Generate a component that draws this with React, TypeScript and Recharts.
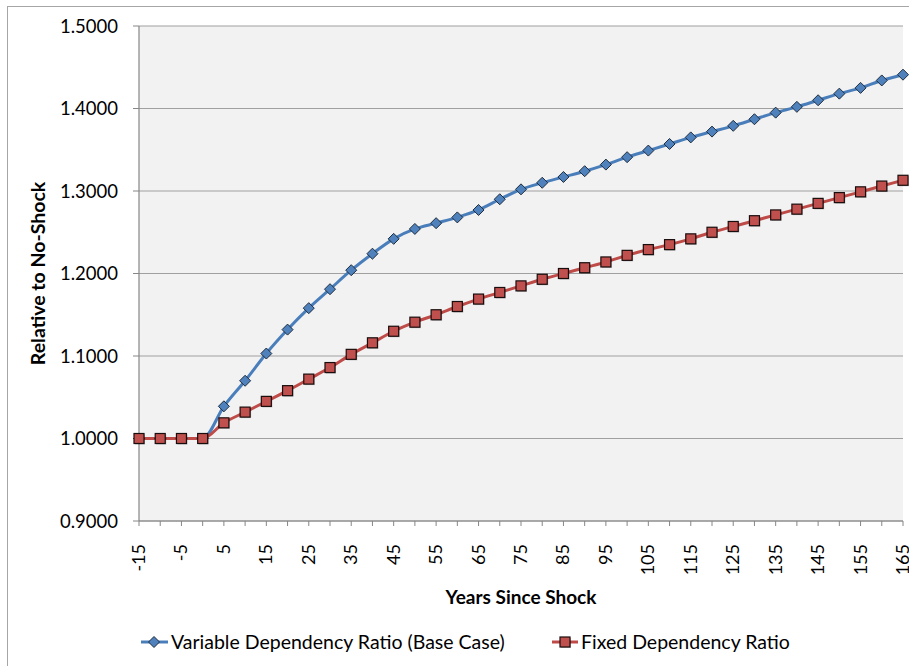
import React from 'react';
import { LineChart, Line, XAxis, YAxis, CartesianGrid, Legend, Label } from 'recharts';

const years = [-15, -10, -5, 0, 5, 10, 15, 20, 25, 30, 35, 40, 45, 50, 55, 60, 65, 70, 75, 80, 85, 90, 95, 100, 105, 110, 115, 120, 125, 130, 135, 140, 145, 150, 155, 160, 165];
const variableRatio = [1.0, 1.0, 1.0, 1.0, 1.039, 1.070, 1.103, 1.132, 1.158, 1.181, 1.204, 1.224, 1.242, 1.254, 1.261, 1.268, 1.277, 1.290, 1.302, 1.310, 1.317, 1.324, 1.332, 1.341, 1.349, 1.357, 1.365, 1.372, 1.379, 1.387, 1.395, 1.402, 1.410, 1.418, 1.425, 1.434, 1.441];
const fixedRatio = [1.0, 1.0, 1.0, 1.0, 1.019, 1.032, 1.045, 1.058, 1.072, 1.086, 1.102, 1.116, 1.130, 1.141, 1.150, 1.160, 1.169, 1.177, 1.185, 1.193, 1.200, 1.207, 1.214, 1.222, 1.229, 1.235, 1.242, 1.250, 1.257, 1.264, 1.271, 1.278, 1.285, 1.292, 1.299, 1.306, 1.313];
const yTicks = [0.9, 1.0, 1.1, 1.2, 1.3, 1.4, 1.5];
const seriesNames = ['Variable Dependency Ratio (Base Case)', 'Fixed Dependency Ratio'];

const data = years.map((y, i) => ({ year: y, variable: variableRatio[i], fixed: fixedRatio[i] }));

const FONT = 'Lato, "Noto Sans", sans-serif';
const BLUE_LINE = '#4a7ebb';
const BLUE_FILL = '#4f81bd';
const RED_LINE = '#be4b48';
const RED_FILL = '#c0504d';

const Diamond = (props: any) => {
  const { cx, cy } = props;
  if (cx == null || cy == null) return null;
  const r = 5.5;
  return (
    <path
      d={`M${cx},${cy - r}L${cx + r},${cy}L${cx},${cy + r}L${cx - r},${cy}Z`}
      fill={BLUE_FILL}
      stroke="#1f2d3d"
      strokeWidth={1}
    />
  );
};

const Square = (props: any) => {
  const { cx, cy } = props;
  if (cx == null || cy == null) return null;
  const s = 10;
  return (
    <g>
      <rect x={cx - s / 2 + 1} y={cy - s / 2 + 1} width={s} height={s} fill="rgba(0,0,0,0.25)" />
      <rect x={cx - s / 2} y={cy - s / 2} width={s} height={s} fill={RED_FILL} stroke="#1a0d0d" strokeWidth={1.2} />
    </g>
  );
};

const XTick = (props: any) => {
  const { x, y, payload } = props;
  return (
    <text
      x={0}
      y={0}
      transform={`translate(${x + 6},${y + 16}) rotate(-90)`}
      textAnchor="end"
      fontFamily={FONT}
      fontSize={18}
      fill="#000"
    >
      {payload.value}
    </text>
  );
};

const LegendContent = () => (
  <div style={{ position: 'relative', width: 909, height: 24 }}>
    <svg width={909} height={24} style={{ position: 'absolute', left: 0, top: 0 }}>
      <line x1={141} y1={12} x2={168} y2={12} stroke={BLUE_LINE} strokeWidth={3} />
      <Diamond cx={154} cy={12} />
      <line x1={552} y1={12} x2={578} y2={12} stroke={RED_LINE} strokeWidth={3} />
      <Square cx={565} cy={12} />
      <text x={171} y={18.5} fontFamily={FONT} fontSize={19.5} fill="#000">{seriesNames[0]}</text>
      <text x={581} y={18.5} fontFamily={FONT} fontSize={19.5} fill="#000">{seriesNames[1]}</text>
    </svg>
  </div>
);

export default function App() {
  return (
    <div style={{ position: 'absolute', left: 0, top: 0, width: 909, height: 666, overflow: 'hidden', background: '#fff' }}>
      <div
        style={{
          position: 'absolute',
          left: 7,
          top: 6,
          width: 1000,
          height: 1000,
          border: '1px solid #a6a6a6',
          pointerEvents: 'none',
        }}
      />
      <LineChart
        width={909}
        height={666}
        data={data}
        margin={{ top: 26, right: 6, bottom: 0, left: 0 }}
        style={{ position: 'absolute', left: 0, top: 0 }}
      >
        <CartesianGrid vertical={false} stroke="#a0a0a0" strokeWidth={1.2} fill="#f2f2f2" />
        <XAxis
          dataKey="year"
          height={145}
          interval={0}
          tick={(p: any) => (p.index % 2 === 0 ? <XTick {...p} /> : <g />)}
          tickLine={{ stroke: '#868686' }}
          axisLine={{ stroke: '#868686', strokeWidth: 1.2 }}
          tickSize={5}
        >
          <Label
            content={(p: any) => {
              const vb = p.viewBox;
              return (
                <text
                  x={vb.x + vb.width / 2}
                  y={vb.y + 83}
                  textAnchor="middle"
                  fontFamily={FONT}
                  fontWeight="bold"
                  fontSize={19}
                  fill="#000"
                >
                  Years Since Shock
                </text>
              );
            }}
          />
        </XAxis>
        <YAxis
          width={139}
          domain={[0.9, 1.5]}
          ticks={yTicks}
          type="number"
          allowDataOverflow
          tickFormatter={(v: number) => v.toFixed(4)}
          tick={{ fontFamily: FONT, fontSize: 18.5, fill: '#000' }}
          tickLine={{ stroke: '#868686' }}
          axisLine={{ stroke: '#868686', strokeWidth: 1.2 }}
          tickSize={6}
          tickMargin={15}
        >
          <Label
            content={(p: any) => {
              const vb = p.viewBox;
              const cy = vb.y + vb.height / 2;
              return (
                <text
                  x={0}
                  y={0}
                  transform={`translate(45,${cy}) rotate(-90)`}
                  textAnchor="middle"
                  fontFamily={FONT}
                  fontWeight="bold"
                  fontSize={19.5}
                  fill="#000"
                >
                  Relative to No-Shock
                </text>
              );
            }}
          />
        </YAxis>
        <Legend
          layout="horizontal"
          verticalAlign="middle"
          align="center"
          content={<LegendContent />}
          wrapperStyle={{ top: 630, left: 0, width: 909 }}
        />
        <Line
          type="monotone"
          dataKey="variable"
          name={seriesNames[0]}
          stroke={BLUE_LINE}
          strokeWidth={3}
          dot={<Diamond />}
          activeDot={false}
          isAnimationActive={false}
        />
        <Line
          type="monotone"
          dataKey="fixed"
          name={seriesNames[1]}
          stroke={RED_LINE}
          strokeWidth={3}
          dot={<Square />}
          activeDot={false}
          isAnimationActive={false}
        />
      </LineChart>
    </div>
  );
}
